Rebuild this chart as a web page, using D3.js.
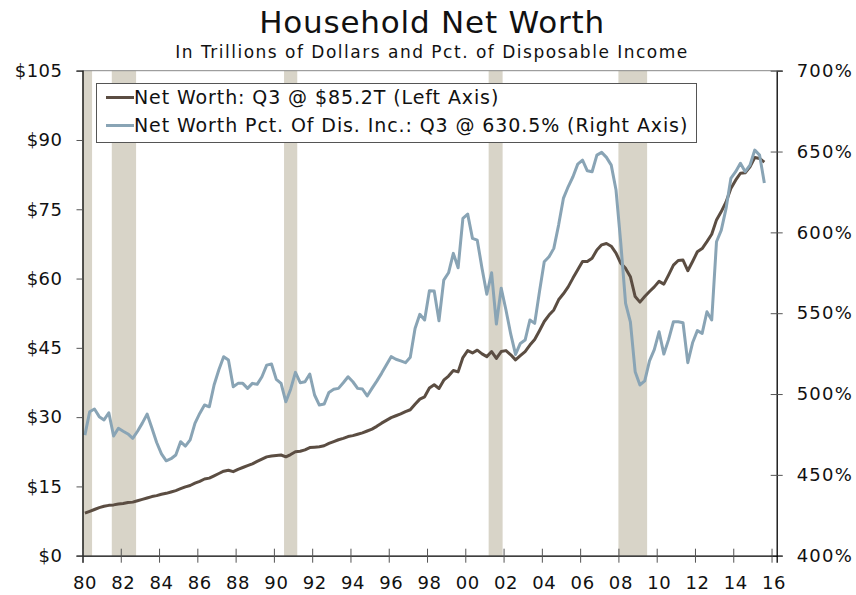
<!DOCTYPE html>
<html>
<head>
<meta charset="utf-8">
<script src="https://cdn.jsdelivr.net/npm/d3@7"></script>
<style>
  body { margin: 0; background: #fff; }
  svg { display: block; font-family: "DejaVu Sans", Verdana, sans-serif; }
</style>
</head>
<body>
<div id="chart"></div>
<script>
// quarterly, 1980 Q1 .. 2015 Q3
const startYear = 1980;

const netWorth = [
  9.2, 9.6, 10.0, 10.4,   10.7, 10.9, 11.0, 11.2,   11.3, 11.5, 11.6, 11.9,
  12.2, 12.5, 12.8, 13.0, 13.3, 13.5, 13.8, 14.1,   14.5, 14.9, 15.2, 15.7,
  16.1, 16.6, 16.8, 17.3, 17.8, 18.3, 18.5, 18.2,   18.7, 19.1, 19.5, 19.9,
  20.4, 20.9, 21.4, 21.6, 21.7, 21.8, 21.4, 21.9,   22.5, 22.6, 22.9, 23.4,
  23.5, 23.6, 23.8, 24.3, 24.7, 25.1, 25.4, 25.8,   26.0, 26.3, 26.6, 27.0,
  27.4, 28.0, 28.7, 29.3, 29.9, 30.3, 30.7, 31.2,   31.6, 32.8, 33.9, 34.4,
  36.3, 37.0, 36.2, 38.0, 38.9, 40.1, 39.8, 42.9,   44.4, 43.9, 44.5, 43.7,
  43.1, 44.2, 42.7, 44.2, 44.4, 43.5, 42.4, 43.3,   44.2, 45.6, 46.8, 48.7,
  50.7, 52.1, 53.2, 55.4, 56.7, 58.2, 60.1, 61.9,   63.7, 63.7, 64.4, 66.2,
  67.3, 67.6, 67.0, 65.5, 63.3, 62.2, 60.4, 56.1,   54.9, 56.1, 57.2, 58.2,
  59.4, 58.8, 60.8, 62.9, 63.9, 64.0, 61.7, 63.7,   65.8, 66.5, 68.0, 69.6,
  72.7, 74.5, 76.6, 79.5, 81.3, 82.8, 82.9, 84.2,   86.2, 86.0, 85.2
];

const pctIncome = [
  474.6, 489.0, 490.7, 486.0, 484.0, 488.4, 474.0, 478.8, 477.0, 475.3, 472.6, 477.0,
  482.0, 487.6, 479.0, 470.0, 463.0, 458.7, 460.0, 462.3, 470.5, 467.8, 471.6, 481.9,
  488.0, 493.2, 492.1, 505.6, 515.0, 523.1, 521.0, 504.5, 506.6, 506.6, 503.5, 506.6,
  506.0, 510.7, 517.9, 518.6, 509.1, 506.6, 495.2, 503.0, 513.4, 507.0, 507.6, 512.4,
  499.4, 493.2, 493.8, 501.0, 502.9, 503.5, 507.0, 510.7, 507.6, 503.5, 503.1, 498.8,
  503.5, 508.0, 512.8, 518.0, 523.1, 521.5, 520.5, 519.4, 522.7, 540.6, 549.3, 545.8,
  563.9, 563.7, 545.3, 570.5, 575.0, 587.0, 578.1, 608.7, 611.3, 596.3, 595.2, 577.7,
  561.7, 575.0, 543.3, 565.5, 552.0, 537.0, 524.5, 531.3, 533.4, 545.8, 543.7, 563.3,
  581.8, 584.9, 590.1, 604.5, 621.0, 628.2, 634.4, 642.2, 644.7, 638.1, 637.5, 647.8,
  649.5, 646.4, 641.6, 626.2, 593.2, 556.1, 544.7, 513.8, 505.6, 508.2, 520.5, 527.5,
  538.5, 524.7, 533.8, 544.7, 544.7, 544.1, 519.4, 531.7, 539.2, 537.5, 550.9, 545.8,
  594.2, 601.4, 614.8, 633.4, 637.5, 642.7, 637.5, 641.6, 650.9, 647.8, 630.5
];

// recession periods (decimal years)
const recessions = [
  [1980.0, 1980.5], [1981.53, 1982.8], [1990.53, 1991.22],
  [2001.22, 2001.95], [2008.0, 2009.5]
];

const leftTicks = [0, 15, 30, 45, 60, 75, 90, 105];
const rightTicks = [400, 450, 500, 550, 600, 650, 700];
const yearTicks = [1980, 1982, 1984, 1986, 1988, 1990, 1992, 1994, 1996, 1998,
  2000, 2002, 2004, 2006, 2008, 2010, 2012, 2014, 2016];

const legendLabels = [
  "Net Worth: Q3 @ $85.2T (Left Axis)",
  "Net Worth Pct. Of Dis. Inc.: Q3 @ 630.5% (Right Axis)"
];

const W = 856, H = 595;
const m = { left: 82.5, right: 776.7, top: 70.7, bottom: 555.7 };

const colNW = "#5b4d42", colPct = "#89a4b5", colRec = "#d8d4c8";

const dates = netWorth.map((_, i) => startYear + 0.125 + i * 0.25);

const x = d3.scaleLinear().domain([1980, 2016.27]).range([m.left, m.right]);
const yL = d3.scaleLinear().domain([0, 105]).range([m.bottom, m.top]);
const yR = d3.scaleLinear().domain([400, 700]).range([m.bottom, m.top]);

const svg = d3.select("#chart").append("svg")
  .attr("width", W).attr("height", H);

// titles
svg.append("text")
  .attr("x", 432).attr("y", 33)
  .attr("text-anchor", "middle")
  .attr("font-size", 31)
  .attr("letter-spacing", 0.8)
  .attr("fill", "#111")
  .text("Household Net Worth");
svg.append("text")
  .attr("x", 432).attr("y", 58)
  .attr("text-anchor", "middle")
  .attr("font-size", 17)
  .attr("letter-spacing", 1.5)
  .attr("fill", "#111")
  .text("In Trillions of Dollars and Pct. of Disposable Income");

// recession shading
svg.append("g").selectAll("rect")
  .data(recessions)
  .join("rect")
  .attr("x", d => x(d[0]))
  .attr("width", d => x(d[1]) - x(d[0]))
  .attr("y", m.top)
  .attr("height", m.bottom - m.top)
  .attr("fill", colRec);

// top border
svg.append("line")
  .attr("x1", m.left).attr("x2", m.right)
  .attr("y1", m.top).attr("y2", m.top)
  .attr("stroke", "#888").attr("stroke-width", 1);

// lines
const lineNW = d3.line().x((d, i) => x(dates[i])).y(d => yL(d));
const linePct = d3.line().x((d, i) => x(dates[i])).y(d => yR(d));

svg.append("path")
  .datum(netWorth)
  .attr("fill", "none")
  .attr("stroke", colNW)
  .attr("stroke-width", 3)
  .attr("stroke-linejoin", "round")
  .attr("d", lineNW);

svg.append("path")
  .datum(pctIncome)
  .attr("fill", "none")
  .attr("stroke", colPct)
  .attr("stroke-width", 3)
  .attr("stroke-linejoin", "round")
  .attr("d", linePct);

// left axis
const gL = svg.append("g").attr("transform", `translate(${m.left},0)`)
  .call(d3.axisLeft(yL).tickValues(leftTicks).tickSize(6).tickPadding(14)
    .tickFormat(d => "$" + d));
gL.select(".domain").attr("stroke", "#000").attr("stroke-width", 1.3);
gL.selectAll(".tick line").attr("stroke", "#555");
gL.selectAll("text").attr("font-size", 18).attr("fill", "#111")
  .attr("letter-spacing", 0.5)
  .attr("font-family", "DejaVu Sans, sans-serif");

// right axis (ticks cross the axis line)
const gR = svg.append("g").attr("transform", `translate(${m.right},0)`)
  .call(d3.axisRight(yR).tickValues(rightTicks).tickSize(6).tickPadding(14)
    .tickFormat(d => d + "%"));
gR.select(".domain").attr("stroke", "#000").attr("stroke-width", 1.3);
gR.selectAll(".tick line").attr("x1", -6).attr("stroke", "#555");
gR.selectAll("text").attr("font-size", 18).attr("fill", "#111")
  .attr("letter-spacing", 1.2)
  .attr("font-family", "DejaVu Sans, sans-serif");

// bottom axis
const gB = svg.append("g").attr("transform", `translate(0,${m.bottom})`)
  .call(d3.axisBottom(x).tickValues(yearTicks).tickSize(7).tickPadding(14)
    .tickFormat(d => String(d).slice(2)));
gB.select(".domain").attr("stroke", "#000").attr("stroke-width", 1.3);
gB.selectAll(".tick line").attr("y1", -7).attr("stroke", "#555");
gB.selectAll("text").attr("font-size", 18).attr("fill", "#111")
  .attr("dx", 2).attr("letter-spacing", 0.6)
  .attr("font-family", "DejaVu Sans, sans-serif");

// legend
const lg = svg.append("g");
lg.append("rect")
  .attr("x", 96.5).attr("y", 83.5)
  .attr("width", 600).attr("height", 59)
  .attr("fill", "#fff").attr("stroke", "#555").attr("stroke-width", 1);
[colNW, colPct].forEach((c, i) => {
  const yy = 97.5 + i * 28;
  lg.append("line")
    .attr("x1", 106).attr("x2", 134)
    .attr("y1", yy).attr("y2", yy)
    .attr("stroke", c).attr("stroke-width", 3);
  lg.append("text")
    .attr("x", 134).attr("y", yy)
    .attr("dy", "0.36em")
    .attr("font-size", 19)
    .attr("letter-spacing", 0.9)
    .attr("fill", "#111")
    .text(legendLabels[i]);
});
</script>
</body>
</html>
